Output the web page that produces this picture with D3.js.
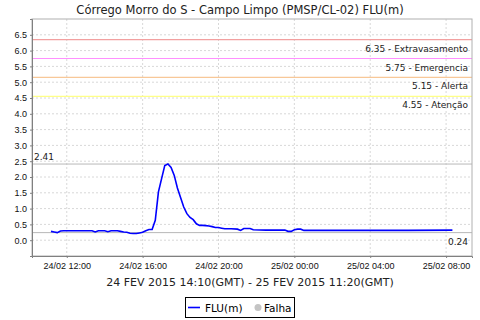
<!DOCTYPE html>
<html>
<head>
<meta charset="utf-8">
<script src="https://cdn.jsdelivr.net/npm/d3@7"></script>
<style>
  body { margin: 0; background: #fff; }
  svg { display: block; font-family: "DejaVu Sans", sans-serif; }
  .tick text { font-size: 9px; fill: #111; }
</style>
</head>
<body>
<div id="chart"></div>
<script>
// readings, local time (24/02 -> 25/02/2015)
const times = [
  '2015-02-24 11:10', '2015-02-24 11:20', '2015-02-24 11:30', '2015-02-24 11:40', '2015-02-24 11:50',
  '2015-02-24 12:30', '2015-02-24 13:20', '2015-02-24 13:30', '2015-02-24 13:40', '2015-02-24 14:00',
  '2015-02-24 14:10', '2015-02-24 14:20', '2015-02-24 14:40', '2015-02-24 14:50', '2015-02-24 15:00',
  '2015-02-24 15:10', '2015-02-24 15:20', '2015-02-24 15:30', '2015-02-24 15:40', '2015-02-24 15:50',
  '2015-02-24 16:00', '2015-02-24 16:10', '2015-02-24 16:20', '2015-02-24 16:30', '2015-02-24 16:40',
  '2015-02-24 16:50', '2015-02-24 17:00', '2015-02-24 17:10', '2015-02-24 17:20', '2015-02-24 17:30',
  '2015-02-24 17:40', '2015-02-24 17:50', '2015-02-24 18:00', '2015-02-24 18:10', '2015-02-24 18:20',
  '2015-02-24 18:30', '2015-02-24 18:40', '2015-02-24 18:50', '2015-02-24 19:00', '2015-02-24 19:10',
  '2015-02-24 19:20', '2015-02-24 19:30', '2015-02-24 19:40', '2015-02-24 19:50', '2015-02-24 20:00',
  '2015-02-24 20:10', '2015-02-24 20:20', '2015-02-24 20:40', '2015-02-24 21:00', '2015-02-24 21:10',
  '2015-02-24 21:20', '2015-02-24 21:40', '2015-02-24 21:50', '2015-02-24 22:30', '2015-02-24 23:30',
  '2015-02-24 23:40', '2015-02-24 23:50', '2015-02-25 00:00', '2015-02-25 00:10', '2015-02-25 00:20',
  '2015-02-25 00:30', '2015-02-25 02:00', '2015-02-25 04:00', '2015-02-25 06:00', '2015-02-25 08:20'
];
const flu = [
  0.28, 0.26, 0.24, 0.29, 0.30,
  0.30, 0.30, 0.26, 0.30, 0.30,
  0.27, 0.30, 0.30, 0.28, 0.26,
  0.25, 0.22, 0.21, 0.21, 0.23,
  0.25, 0.30, 0.34, 0.34, 0.63,
  1.53, 1.95, 2.36, 2.41, 2.30,
  2.05, 1.65, 1.35, 1.05, 0.84,
  0.72, 0.65, 0.52, 0.47, 0.47,
  0.46, 0.45, 0.43, 0.40, 0.40,
  0.38, 0.36, 0.36, 0.35, 0.31,
  0.37, 0.37, 0.33, 0.32, 0.32,
  0.28, 0.28, 0.33, 0.35, 0.35,
  0.31, 0.31, 0.31, 0.31, 0.32
];

// alert levels
const levelValues = [6.35, 5.75, 5.15, 4.55];
const levelNames = ['Extravasamento', 'Emergencia', 'Alerta', 'Atenção'];
const levelColors = ['#f2a0a0', '#ff90ff', '#f8c898', '#ffff88'];

const maxValue = 2.41;
const minValue = 0.24;

const yTicks = [0, 0.5, 1, 1.5, 2, 2.5, 3, 3.5, 4, 4.5, 5, 5.5, 6, 6.5];

const title = 'Córrego Morro do S - Campo Limpo (PMSP/CL-02) FLU(m)';
const xTitle = '24 FEV 2015 14:10(GMT) - 25 FEV 2015 11:20(GMT)';

function main() {
  const svgWidth = 480;
  const svgHeight = 320;
  const margin = { top: 19, left: 32, right: 8, bottom: 64 };
  const w = svgWidth - margin.left - margin.right;
  const h = svgHeight - margin.top - margin.bottom;

  const parse = d3.timeParse('%Y-%m-%d %H:%M');
  const data = times.map((t, i) => ({ t: parse(t), v: flu[i] }));

  const svg = d3.select('#chart').append('svg')
    .attr('width', svgWidth).attr('height', svgHeight);

  svg.append('text')
    .attr('x', 240).attr('y', 14)
    .attr('text-anchor', 'middle')
    .attr('font-size', '11.5px')
    .attr('fill', '#222')
    .text(title);

  const g = svg.append('g').attr('transform', `translate(${margin.left},${margin.top})`);

  const x = d3.scaleTime()
    .domain([parse('2015-02-24 10:10'), parse('2015-02-25 09:22')])
    .range([0, w]);
  const y = d3.scaleLinear().domain([-0.5, 7.0]).range([h, 0]);

  const xTicks = x.ticks(d3.timeHour.every(4));

  // grid
  g.append('g').selectAll('line').data(xTicks).enter().append('line')
    .attr('x1', d => x(d)).attr('x2', d => x(d))
    .attr('y1', 0).attr('y2', h)
    .attr('stroke', '#d8d8d8').attr('stroke-dasharray', '2,2');
  g.append('g').selectAll('line').data(yTicks).enter().append('line')
    .attr('x1', 0).attr('x2', w)
    .attr('y1', d => y(d)).attr('y2', d => y(d))
    .attr('stroke', '#d8d8d8').attr('stroke-dasharray', '2,2');

  // level lines
  levelValues.forEach((v, i) => {
    g.append('line')
      .attr('x1', 0).attr('x2', w)
      .attr('y1', y(v)).attr('y2', y(v))
      .attr('stroke', levelColors[i]).attr('stroke-width', 1.2);
    g.append('text')
      .attr('x', w - 4).attr('y', y(v) + 12)
      .attr('text-anchor', 'end')
      .attr('font-size', '9px')
      .attr('fill', '#222')
      .text(`${v.toFixed(2)} - ${levelNames[i]}`);
  });

  // max / min markers
  g.append('line')
    .attr('x1', 0).attr('x2', w)
    .attr('y1', y(maxValue)).attr('y2', y(maxValue))
    .attr('stroke', '#b8b8b8');
  g.append('text')
    .attr('x', 2).attr('y', y(maxValue) - 4)
    .attr('font-size', '9px').attr('fill', '#222')
    .text(maxValue.toFixed(2));
  g.append('line')
    .attr('x1', 0).attr('x2', w)
    .attr('y1', y(minValue)).attr('y2', y(minValue))
    .attr('stroke', '#b8b8b8');
  g.append('text')
    .attr('x', w - 4).attr('y', y(minValue) + 12)
    .attr('text-anchor', 'end')
    .attr('font-size', '9px').attr('fill', '#222')
    .text(minValue.toFixed(2));

  // series
  const line = d3.line().x(d => x(d.t)).y(d => y(d.v));
  g.append('path')
    .datum(data)
    .attr('d', line)
    .attr('fill', 'none')
    .attr('stroke', '#0000ff')
    .attr('stroke-width', 1.6);

  // frame
  g.append('rect')
    .attr('x', 0).attr('y', 0).attr('width', w).attr('height', h)
    .attr('fill', 'none').attr('stroke', '#b0b0b0');

  // axes
  const xAxis = g.append('g')
    .attr('transform', `translate(0,${h})`)
    .call(d3.axisBottom(x).tickValues(xTicks).tickFormat(d3.timeFormat('%d/%m %H:%M')).tickSize(2).tickPadding(5));
  const yAxis = g.append('g')
    .call(d3.axisLeft(y).tickValues(yTicks).tickFormat(d3.format('.1f')).tickSize(2).tickPadding(3));
  [xAxis, yAxis].forEach(a => {
    a.select('.domain').attr('stroke', '#808080');
    a.selectAll('.tick line').attr('stroke', '#808080');
  });

  svg.append('text')
    .attr('x', 250).attr('y', 286)
    .attr('text-anchor', 'middle')
    .attr('font-size', '11px')
    .attr('fill', '#222')
    .text(xTitle);

  // legend
  const lg = svg.append('g').attr('transform', 'translate(185,297)');
  lg.append('rect').attr('x', 0.5).attr('y', 0.5).attr('width', 109).attr('height', 20)
    .attr('fill', '#fff').attr('stroke', '#000');
  lg.append('line').attr('x1', 3).attr('x2', 15).attr('y1', 10.5).attr('y2', 10.5)
    .attr('stroke', '#0000ff').attr('stroke-width', 1.6);
  lg.append('text').attr('x', 20).attr('y', 14.5)
    .attr('font-size', '10.5px').attr('fill', '#000').text('FLU(m)');
  lg.append('circle').attr('cx', 73).attr('cy', 10.5).attr('r', 3.5).attr('fill', '#c4c4c4');
  lg.append('text').attr('x', 79).attr('y', 14.5)
    .attr('font-size', '10.5px').attr('fill', '#000').text('Falha');
}

main();
</script>
</body>
</html>
